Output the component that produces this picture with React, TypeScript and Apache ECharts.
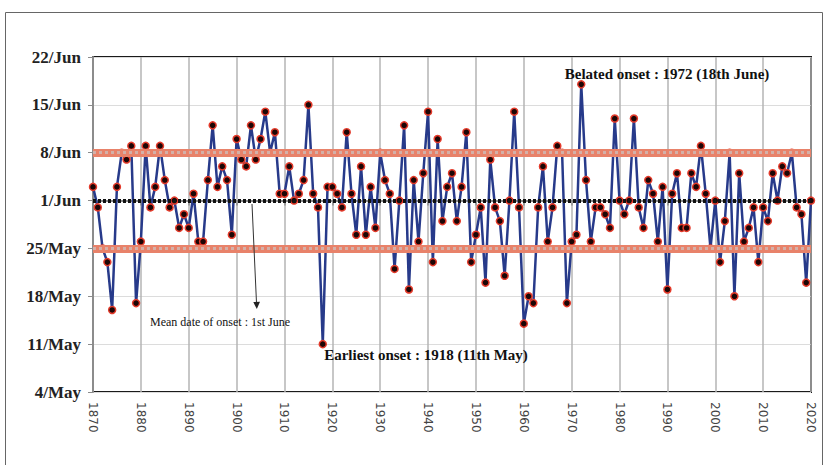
import React, { useEffect, useRef } from "react";
import * as echarts from "echarts";

// Onset of monsoon, days relative to 1 June (negative = May)
const ONSET_1870s = [2, -1, -7, -9, -16, 2, 7, 6, 8, -15];
const ONSET_1880s = [-6, 8, -1, 2, 8, 3, -1, 0, -4, -2];
const ONSET_1890s = [-4, 1, -6, -6, 3, 11, 2, 5, 3, -5];
const ONSET_1900s = [9, 6, 5, 11, 6, 9, 13, 7, 10, 1];
const ONSET_1910s = [1, 5, 0, 1, 3, 14, 1, -1, -21, 2];
const ONSET_1920s = [2, 1, -1, 10, 1, -5, 5, -5, 2, -4];
const ONSET_1930s = [7, 3, 1, -10, 0, 11, -13, 3, -6, 4];
const ONSET_1940s = [13, -9, 9, -3, 2, 4, -3, 2, 10, -9];
const ONSET_1950s = [-5, -1, -12, 6, -1, -3, -11, 0, 13, -1];
const ONSET_1960s = [-18, -14, -15, -1, 5, -6, -1, 8, 7, -15];
const ONSET_1970s = [-6, -5, 17, 3, -6, -1, -1, -2, -4, 12];
const ONSET_1980s = [0, -2, 0, 12, -1, -4, 3, 1, -6, 2];
const ONSET_1990s = [-13, 1, 4, -4, -4, 4, 2, 8, 1, -7];
const ONSET_2000s = [0, -9, -3, 7, -14, 4, -6, -4, -1, -9];
const ONSET_2010s = [-1, -3, 4, 0, 5, 4, 7, -1, -2, -12];
const ONSET_2020 = [0];

const FIRST_YEAR = 1870;
const LAST_YEAR = 2020;
const YEARS: string[] = [];
for (let y = FIRST_YEAR; y <= LAST_YEAR; y++) YEARS.push(String(y));

const MEAN_ONSET = 0; // 1 June
const UPPER_BAND = 7; // 8 June
const LOWER_BAND = -7; // 25 May

const Y_MIN = -28; // 4 May
const Y_MAX = 21; // 22 June
const Y_STEP = 7;

const ONSET = [
  ...ONSET_1870s, ...ONSET_1880s, ...ONSET_1890s, ...ONSET_1900s, ...ONSET_1910s,
  ...ONSET_1920s, ...ONSET_1930s, ...ONSET_1940s, ...ONSET_1950s, ...ONSET_1960s,
  ...ONSET_1970s, ...ONSET_1980s, ...ONSET_1990s, ...ONSET_2000s, ...ONSET_2010s,
  ...ONSET_2020,
];

function dayLabel(v: number): string {
  if (v >= 0) return `${1 + v}/Jun`;
  return `${32 + v}/May`;
}

export default function App() {
  const ref = useRef<HTMLDivElement>(null);
  useEffect(() => {
    if (!ref.current) return;
    const chart = echarts.init(ref.current, null, { renderer: "svg" });
    const serif = "'Liberation Serif', 'Times New Roman', serif";
    const orangeBand = (v: number) => [
      { yAxis: v, lineStyle: { color: "#e8826a", width: 8, type: "solid" } },
      { yAxis: v, lineStyle: { color: "#d4b0a8", width: 3, type: [3, 3] } },
    ];
    chart.setOption({
      animation: false,
      backgroundColor: "#ffffff",
      grid: {
        left: 93,
        top: 57,
        width: 718,
        height: 335,
        show: true,
        borderColor: "#1a1a1a",
        borderWidth: 2,
        backgroundColor: "transparent",
      },
      xAxis: {
        type: "category",
        data: YEARS,
        boundaryGap: false,
        axisLine: { lineStyle: { color: "#8c8c8c", width: 2 } },
        axisTick: { interval: 9, length: 5, lineStyle: { color: "#8c8c8c", width: 1.5 } },
        axisLabel: {
          interval: 9,
          rotate: -90,
          margin: 10,
          fontFamily: "'DejaVu Sans', sans-serif",
          fontSize: 12,
          color: "#444",
        },
        splitLine: { show: true, interval: 9, lineStyle: { color: "#b4b4b4", width: 1.5 } },
      },
      yAxis: {
        type: "value",
        min: Y_MIN,
        max: Y_MAX,
        interval: Y_STEP,
        axisLine: { show: true, lineStyle: { color: "#8c8c8c", width: 2 } },
        axisTick: { show: true, length: 5, lineStyle: { color: "#8c8c8c" } },
        axisLabel: {
          formatter: (v: number) => dayLabel(v),
          fontFamily: serif,
          fontWeight: "bold",
          fontSize: 17,
          color: "#222",
          margin: 12,
        },
        splitLine: { show: true, lineStyle: { color: "#dcdcdc", width: 1 } },
      },
      series: [
        {
          type: "line",
          data: ONSET,
          z: 2,
          showAllSymbol: true,
          symbol: "circle",
          symbolSize: 7,
          lineStyle: { color: "#273a8a", width: 2.5 },
          itemStyle: { color: "#1c0606", borderColor: "#e43a2a", borderWidth: 1.5 },
          markLine: {
            silent: true,
            symbol: "none",
            label: { show: false },
            animation: false,
            data: [
              ...orangeBand(UPPER_BAND),
              ...orangeBand(LOWER_BAND),
              { yAxis: MEAN_ONSET, lineStyle: { color: "#121212", width: 4, type: [3, 2] } },
            ],
          },
        },
      ],
      graphic: [
        {
          type: "rect",
          shape: { x: 5.5, y: 12.5, width: 817, height: 470 },
          style: { fill: "none", stroke: "#666", lineWidth: 1 },
          silent: true,
        },
        {
          type: "text",
          x: 667,
          y: 74,
          style: {
            text: "Belated onset : 1972 (18th June)",
            font: `bold 15px ${serif}`,
            fill: "#111",
            align: "center",
            verticalAlign: "middle",
          },
          z: 10,
        },
        {
          type: "text",
          x: 426,
          y: 355,
          style: {
            text: "Earliest onset : 1918 (11th May)",
            font: `bold 15px ${serif}`,
            fill: "#111",
            align: "center",
            verticalAlign: "middle",
          },
          z: 10,
        },
        {
          type: "text",
          x: 220,
          y: 322,
          style: {
            text: "Mean date of onset : 1st June",
            font: `12px ${serif}`,
            fill: "#111",
            align: "center",
            verticalAlign: "middle",
          },
          z: 10,
        },
        {
          type: "line",
          shape: { x1: 252, y1: 204, x2: 256.5, y2: 303 },
          style: { stroke: "#333", lineWidth: 1 },
          z: 10,
        },
        {
          type: "polygon",
          shape: { points: [[253.3, 302], [260, 301.7], [256.8, 309]] },
          style: { fill: "#222" },
          z: 10,
        },
      ],
    });
    return () => chart.dispose();
  }, []);
  return (
    <div
      ref={ref}
      style={{ position: "fixed", left: 0, top: 0, width: 827, height: 465, background: "#fff" }}
    />
  );
}
